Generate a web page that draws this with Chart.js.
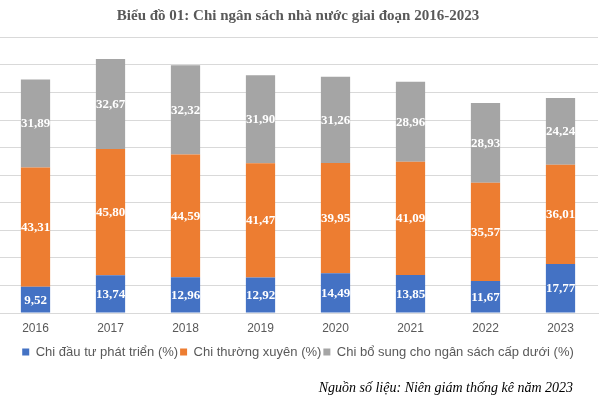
<!DOCTYPE html>
<html><head><meta charset="utf-8">
<script src="https://cdn.jsdelivr.net/npm/chart.js@4"></script>
<style>
html,body{margin:0;padding:0;background:#fff;overflow:hidden;width:601px;height:403px;}
#wrap{position:absolute;left:-2px;top:0;width:603px;height:403px;}
#src{position:absolute;right:28px;top:380px;font-style:italic;font-size:14px;line-height:16px;font-family:'Liberation Serif',serif;color:#000;white-space:nowrap;}
</style></head><body>
<div id="wrap"><canvas id="c" width="603" height="403"></canvas></div>
<div id="src">Nguồn số liệu: Niên giám thống kê năm 2023</div>
<script>
const categories = ['2016','2017','2018','2019','2020','2021','2022','2023'];
const devSpending = [9.52, 13.74, 12.96, 12.92, 14.49, 13.85, 11.67, 17.77];
const regularSpending = [43.31, 45.80, 44.59, 41.47, 39.95, 41.09, 35.57, 36.01];
const transferSpending = [31.89, 32.67, 32.32, 31.90, 31.26, 28.96, 28.93, 24.24];
const seriesNames = ['Chi đầu tư phát triển (%)', 'Chi thường xuyên (%)', 'Chi bổ sung cho ngân sách cấp dưới (%)'];
const yTickValues = [0, 10, 20, 30, 40, 50, 60, 70, 80, 90, 100];
const titleText = 'Biểu đồ 01: Chi ngân sách nhà nước giai đoạn 2016-2023';

const fmt = v => v.toFixed(2).replace('.', ',');

const segLabels = {
  id: 'segLabels',
  afterDatasetsDraw(chart) {
    const ctx = chart.ctx;
    ctx.save();
    ctx.font = 'bold 13px "Liberation Serif"';
    ctx.fillStyle = '#ffffff';
    ctx.textAlign = 'center';
    ctx.textBaseline = 'middle';
    chart.data.datasets.forEach((ds, i) => {
      chart.getDatasetMeta(i).data.forEach((bar, j) => {
        const p = bar.getProps(['x', 'y', 'base'], true);
        ctx.fillText(fmt(ds.data[j]), p.x, (p.y + p.base) / 2 + 0.5);
      });
    });
    ctx.restore();
  }
};

Chart.defaults.font.family = '"Liberation Sans", Arial, sans-serif';

new Chart(document.getElementById('c'), {
  type: 'bar',
  data: {
    labels: categories,
    datasets: [
      { label: seriesNames[0], data: devSpending, backgroundColor: '#4472C4', borderWidth: 0 },
      { label: seriesNames[1], data: regularSpending, backgroundColor: '#ED7D31', borderWidth: 0 },
      { label: seriesNames[2], data: transferSpending, backgroundColor: '#A5A5A5', borderWidth: 0 }
    ]
  },
  options: {
    responsive: false,
    animation: false,
    devicePixelRatio: 1,
    layout: { padding: { left: 0, right: 3, top: 0, bottom: 34.5 } },
    datasets: { bar: { categoryPercentage: 1, barPercentage: 0.39 } },
    scales: {
      x: {
        stacked: true,
        grid: { display: false, drawTicks: false },
        border: { display: true, color: '#d9d9d9' },
        ticks: { color: '#595959', font: { size: 12 }, padding: 8 }
      },
      y: {
        stacked: true,
        min: 0, max: 100,
        afterBuildTicks: s => { s.ticks = yTickValues.map(v => ({ value: v })); },
        ticks: { display: false },
        grid: { color: '#d9d9d9', drawTicks: false, lineWidth: 1 },
        border: { display: false }
      }
    },
    plugins: {
      title: {
        display: true,
        text: titleText,
        color: '#595959',
        font: { family: '"Liberation Serif", serif', size: 15, weight: 'bold' },
        padding: { top: 7, bottom: 12.4 }
      },
      legend: {
        position: 'bottom',
        labels: {
          boxWidth: 7, boxHeight: 7, padding: 2,
          color: '#595959',
          font: { size: 13 }
        }
      },
      tooltip: { enabled: false }
    }
  },
  plugins: [segLabels]
});
</script>
</body></html>
